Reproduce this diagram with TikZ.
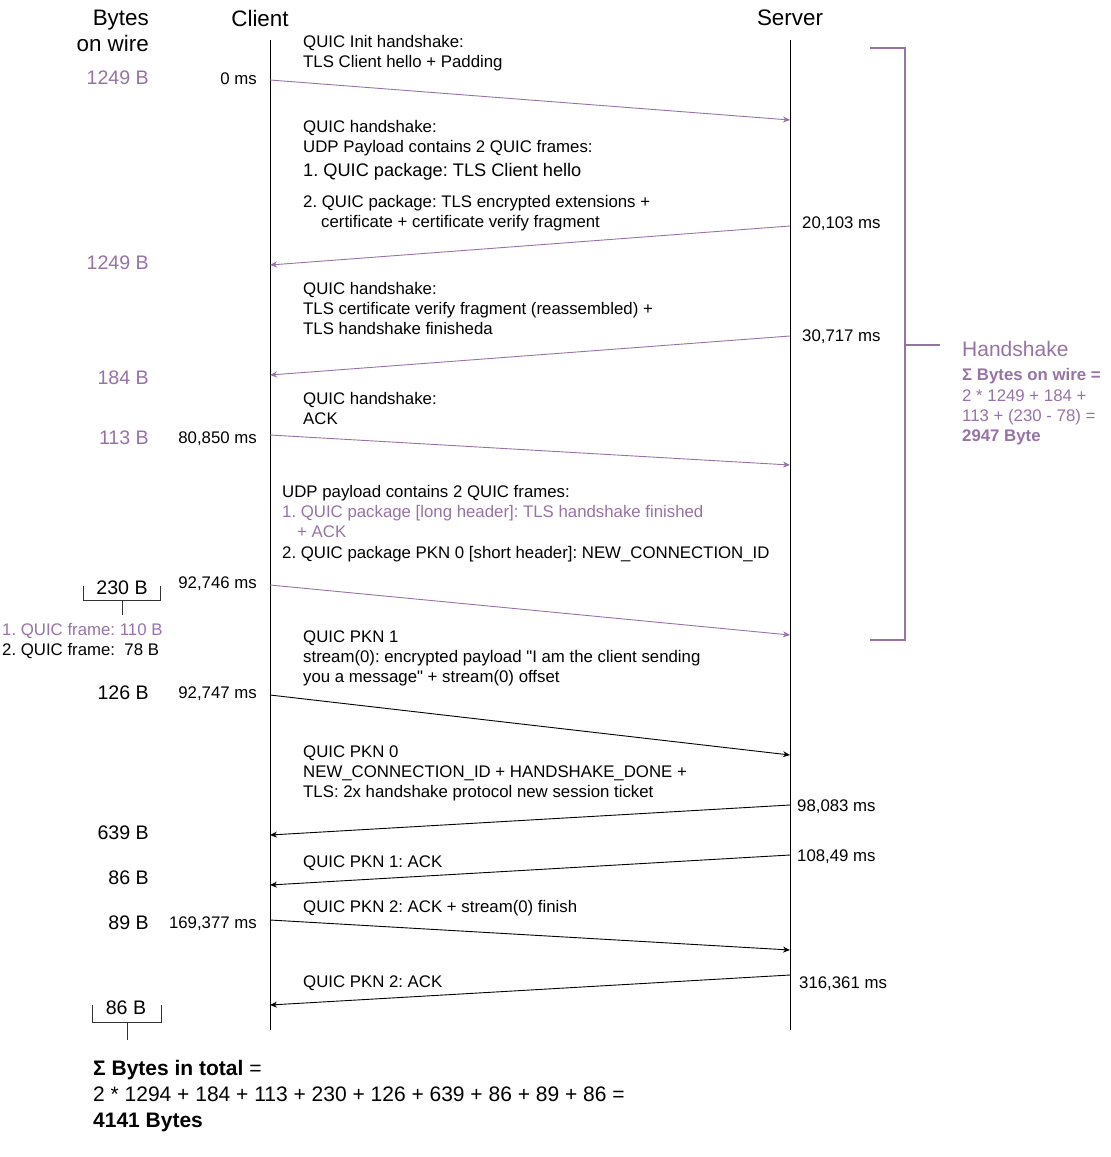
\documentclass[tikz,border=0pt]{standalone}
\usepackage{fontspec}
\setmainfont{Liberation Sans}
\usetikzlibrary{arrows.meta, positioning}

\definecolor{hspurple}{RGB}{150,115,166}
\newcommand{\fntbody}{\fontsize{16.8}{20.2}\selectfont}
\newcommand{\fntmid}{\fontsize{18.2}{21.8}\selectfont}
\newcommand{\fntbytes}{\fontsize{19.6}{26}\selectfont}
\newcommand{\fnths}{\fontsize{21}{25}\selectfont}
\newcommand{\fnttotal}{\fontsize{21}{26}\selectfont}
\newcommand{\fnttitle}{\fontsize{22.4}{26.4}\selectfont}
\frenchspacing

\begin{document}
\begin{tikzpicture}[x=1pt, y=-1pt,
	msg/.style={-{Stealth[length=7pt,width=6pt]}, line width=0.9pt},
	hsmsg/.style={msg, draw=hspurple, color=hspurple},
	txt/.style={inner sep=0pt, align=left, anchor=west, font=\fntbody, yshift=-1.5pt},
	bytes/.style={inner sep=0pt, anchor=east, font=\fntbytes, yshift=-1pt},
	ms/.style={inner sep=0pt, font=\fntbody, yshift=-1.5pt},
	brace/.style={draw=black!80, line width=0.8pt}
]
	\useasboundingbox (0,0) rectangle (1111,1157);

	% lifelines
	\node[inner sep=0pt, align=right, anchor=east, font=\fnttitle] (bw) at (149,31) {Bytes\\on wire};
	\node[inner sep=0pt, font=\fnttitle] (client) at (260,18) {Client};
	\node[inner sep=0pt, font=\fnttitle] (server) at (790,18) {Server};
	\coordinate (clTop) at (270,40);
	\coordinate (clBot) at (270,1030);
	\coordinate (svTop) at (790,40);
	\coordinate (svBot) at (790,1030);
	\draw[line width=1pt] (clTop) -- (clBot);
	\draw[line width=1pt] (svTop) -- (svBot);

	% handshake messages
	\coordinate (c1) at (270,80);
	\coordinate (s1) at (790,120);
	\draw[hsmsg] (c1) -- (s1);
	\node[txt] (t1) at (303,52) {QUIC Init handshake:\\TLS Client hello + Padding};
	\node[ms, anchor=east] (m1) at (257,77) {0 ms};
	\node[bytes, text=hspurple] (b1) at (149,77) {1249 B};

	\coordinate (s2) at (790,226);
	\coordinate (c2) at (270,265);
	\draw[hsmsg] (s2) -- (c2);
	\node[txt] (t2a) at (303,137) {QUIC handshake:\\UDP Payload contains 2 QUIC frames:};
	\node[txt, font=\fntmid] (t2b) at (303,170) {1. QUIC package: TLS Client hello};
	\node[txt] (t2c) at (303,212) {2. QUIC package: TLS encrypted extensions +\\\hspace*{18pt}certificate + certificate verify fragment};
	\node[ms, anchor=west] (m2) at (802,222) {20,103 ms};
	\node[bytes, text=hspurple] (b2) at (149,262) {1249 B};

	\coordinate (s3) at (790,336);
	\coordinate (c3) at (270,375);
	\draw[hsmsg] (s3) -- (c3);
	\node[txt] (t3) at (303,307) {QUIC handshake:\\TLS certificate verify fragment (reassembled) +\\TLS handshake finisheda};
	\node[ms, anchor=west] (m3) at (802,335) {30,717 ms};
	\node[bytes, text=hspurple] (b3) at (149,377) {184 B};

	\coordinate (c4) at (270,435);
	\coordinate (s4) at (790,465);
	\draw[hsmsg] (c4) -- (s4);
	\node[txt] (t4) at (303,407) {QUIC handshake:\\ACK};
	\node[ms, anchor=east] (m4) at (257,437) {80,850 ms};
	\node[bytes, text=hspurple] (b4) at (149,437) {113 B};

	\coordinate (c5) at (270,585);
	\coordinate (s5) at (790,635);
	\draw[hsmsg] (c5) -- (s5);
	\node[txt] (t5) at (282,522) {UDP payload contains 2 QUIC frames:\\
		\textcolor{hspurple}{1. QUIC package [long header]: TLS handshake finished}\\
		\textcolor{hspurple}{\hspace*{15pt}+ ACK}\\
		2. QUIC package PKN 0 [short header]: NEW\_CONNECTION\_ID};
	\node[ms, anchor=east] (m5) at (257,582) {92,746 ms};
	\node[inner sep=0pt, font=\fntbytes, yshift=-1pt] (b5) at (122,587) {230 B};
	\coordinate (b5l) at (83,586);
	\coordinate (b5r) at (160,586);
	\coordinate (b5s) at (122,615);
	\draw[brace] (b5l) |- (b5r |- 0,600) -- (b5r);
	\draw[brace] (b5s |- 0,600) -- (b5s);
	\node[txt, font=\fntbody, text=hspurple] (f1) at (2,629) {1. QUIC frame: 110 B};
	\node[txt, font=\fntbody] (f2) at (2,649) {2. QUIC frame: \ 78 B};

	% handshake sum
	\coordinate (hsTop) at (870,48);
	\coordinate (hsBot) at (870,640);
	\coordinate (hsMid) at (905,345);
	\coordinate (hsTip) at (940,345);
	\draw[hspurple, line width=1.4pt] (hsTop) -- ++(35,0) |- (hsBot);
	\draw[hspurple, line width=1.4pt] (hsMid) -- (hsTip);
	\node[txt, font=\fnths, text=hspurple] (hs) at (962,347) {Handshake};
	\node[txt, text=hspurple, anchor=north west] (hssum) at (962,367) {\textbf{Σ Bytes on wire =}\\2 * 1249 + 184 +\\113 + (230 - 78) =\\\textbf{2947 Byte}};

	% data messages
	\coordinate (c6) at (270,695);
	\coordinate (s6) at (790,755);
	\draw[msg] (c6) -- (s6);
	\node[txt] (t6) at (303,657) {QUIC PKN 1\\stream(0): encrypted payload \textquotedbl I am the client sending\\you a message\textquotedbl{} + stream(0) offset};
	\node[ms, anchor=east] (m6) at (257,692) {92,747 ms};
	\node[bytes] (b6) at (149,692) {126 B};

	\coordinate (s7) at (790,805);
	\coordinate (c7) at (270,835);
	\draw[msg] (s7) -- (c7);
	\node[txt] (t7) at (303,772) {QUIC PKN 0\\NEW\_CONNECTION\_ID + HANDSHAKE\_DONE +\\TLS: 2x handshake protocol new session ticket};
	\node[ms, anchor=west] (m7) at (797,805) {98,083 ms};
	\node[bytes] (b7) at (149,832) {639 B};

	\coordinate (s8) at (790,855);
	\coordinate (c8) at (270,885);
	\draw[msg] (s8) -- (c8);
	\node[txt] (t8) at (303,862) {QUIC PKN 1: ACK};
	\node[ms, anchor=west] (m8) at (797,855) {108,49 ms};
	\node[bytes] (b8) at (149,877) {86 B};

	\coordinate (c9) at (270,920);
	\coordinate (s9) at (790,950);
	\draw[msg] (c9) -- (s9);
	\node[txt] (t9) at (303,907) {QUIC PKN 2: ACK + stream(0) finish};
	\node[ms, anchor=east] (m9) at (257,922) {169,377 ms};
	\node[bytes] (b9) at (149,922) {89 B};

	\coordinate (s10) at (790,975);
	\coordinate (c10) at (270,1005);
	\draw[msg] (s10) -- (c10);
	\node[txt] (t10) at (303,982) {QUIC PKN 2: ACK};
	\node[ms, anchor=west] (m10) at (799,982) {316,361 ms};
	\node[inner sep=0pt, font=\fntbytes, yshift=-1pt] (b10) at (126,1007) {86 B};
	\coordinate (b10l) at (92,1005);
	\coordinate (b10r) at (161,1005);
	\coordinate (b10s) at (127,1040);
	\draw[brace] (b10l) |- (b10r |- 0,1022) -- (b10r);
	\draw[brace] (b10s |- 0,1022) -- (b10s);

	% total
	\node[inner sep=0pt, align=left, anchor=north west, font=\fnttotal] (total) at (93,1060) {\textbf{Σ Bytes in total} =\\2 * 1294 + 184 + 113 + 230 + 126 + 639 + 86 + 89 + 86 =\\\textbf{4141 Bytes}};
\end{tikzpicture}
\end{document}
